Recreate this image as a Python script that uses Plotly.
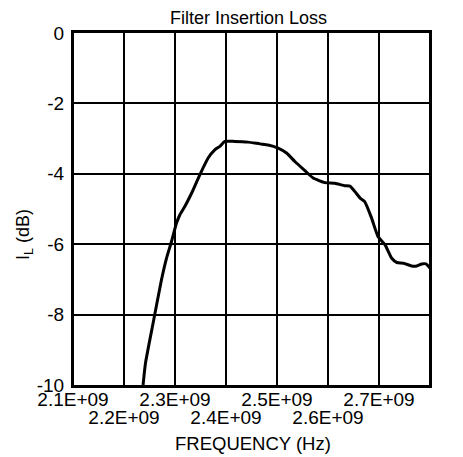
import plotly.graph_objects as go

# Data (frequency in Hz, insertion loss in dB)
freq_hz = [2.2374e9, 2.2421e9, 2.257e9, 2.2735e9, 2.2833e9, 2.293e9, 2.303e9, 2.3094e9,
           2.3192e9, 2.3355e9, 2.3486e9, 2.365e9, 2.378e9, 2.388e9, 2.3977e9, 2.417e9,
           2.4434e9, 2.4664e9, 2.4826e9, 2.5023e9, 2.5187e9, 2.535e9, 2.5547e9, 2.571e9,
           2.594e9, 2.6135e9, 2.633e9, 2.643e9, 2.6525e9, 2.663e9, 2.672e9, 2.6855e9,
           2.698e9, 2.712e9, 2.725e9, 2.735e9, 2.748e9, 2.764e9, 2.774e9, 2.784e9,
           2.792e9, 2.800e9]
loss_db = [-10.0, -9.38, -8.245, -7.01, -6.40, -5.93, -5.40, -5.17,
           -4.93, -4.46, -4.03, -3.55, -3.32, -3.22, -3.08, -3.08,
           -3.10, -3.15, -3.18, -3.27, -3.41, -3.65, -3.91, -4.12,
           -4.25, -4.27, -4.34, -4.35, -4.50, -4.69, -4.79, -5.26,
           -5.78, -6.02, -6.40, -6.52, -6.54, -6.62, -6.62, -6.56,
           -6.56, -6.68]

x_ticks_upper = [2.1e9, 2.3e9, 2.5e9, 2.7e9]
x_labels_upper = ["2.1E+09", "2.3E+09", "2.5E+09", "2.7E+09"]
x_ticks_lower = [2.2e9, 2.4e9, 2.6e9, 2.8e9]
x_labels_lower = ["2.2E+09", "2.4E+09", "2.6E+09", "2.8E+09"]
x_grid = [2.1e9, 2.2e9, 2.3e9, 2.4e9, 2.5e9, 2.6e9, 2.7e9, 2.8e9]
y_ticks = [0, -2, -4, -6, -8, -10]
y_labels = ["0", "-2", "-4", "-6", "-8", "-10"]

FONT = "Liberation Sans, Arial, sans-serif"
TICK = dict(family=FONT, size=19, color="black")

fig = go.Figure()
fig.add_trace(go.Scatter(x=freq_hz, y=loss_db, mode="lines",
                         line=dict(color="black", width=3, shape="spline", smoothing=0.5),
                         showlegend=False, hoverinfo="skip"))
fig.add_trace(go.Scatter(x=freq_hz, y=loss_db, mode="lines", xaxis="x2",
                         line=dict(color="rgba(0,0,0,0)", width=0), showlegend=False,
                         hoverinfo="skip"))

# page body has an 8px margin, so the figure is sized and placed to compensate
fig.update_layout(
    width=455, height=449,
    margin=dict(l=65, r=33, t=25, b=72),
    paper_bgcolor="white", plot_bgcolor="white",
    font=dict(family=FONT, size=18, color="black"),
    xaxis=dict(range=[2.1e9, 2.8e9], tickvals=x_ticks_upper, ticktext=x_labels_upper,
               showgrid=False, showline=True, linecolor="black", linewidth=3, mirror=True,
               ticks="", zeroline=False, ticklabelstandoff=-5, tickfont=TICK),
    xaxis2=dict(range=[2.1e9, 2.8e9], overlaying="x", anchor="y", side="bottom",
                tickvals=x_ticks_lower, ticktext=x_labels_lower, showgrid=False,
                showline=False, ticks="", zeroline=False, ticklabelstandoff=19,
                tickfont=TICK),
    yaxis=dict(range=[-10, 0], tickvals=y_ticks, ticktext=y_labels,
               showgrid=True, gridcolor="black", gridwidth=2,
               showline=True, linecolor="black", linewidth=2, mirror=True,
               ticks="", zeroline=False, ticklabelstandoff=3, tickfont=TICK),
    annotations=[
        dict(text="Filter Insertion Loss", x=0.4926, y=1.0435, xref="paper", yref="paper",
             xanchor="center", yanchor="middle", showarrow=False,
             font=dict(family=FONT, size=18, color="black")),
        dict(text="FREQUENCY (Hz)", x=0.5038, y=-0.166, xref="paper", yref="paper",
             xanchor="center", yanchor="middle", showarrow=False,
             font=dict(family=FONT, size=18.5, color="black")),
        dict(text="I<sub>L</sub> (dB)", x=-0.134, y=0.4265, xref="paper", yref="paper",
             xanchor="center", yanchor="middle", showarrow=False, textangle=-90,
             font=dict(family=FONT, size=18, color="black")),
    ],
)

# vertical grid lines at every 0.1 GHz, drawn through the x axis scale
for xv in x_grid:
    fig.add_vline(x=xv, line=dict(color="black", width=2), layer="below")

fig.write_html("out.html")
